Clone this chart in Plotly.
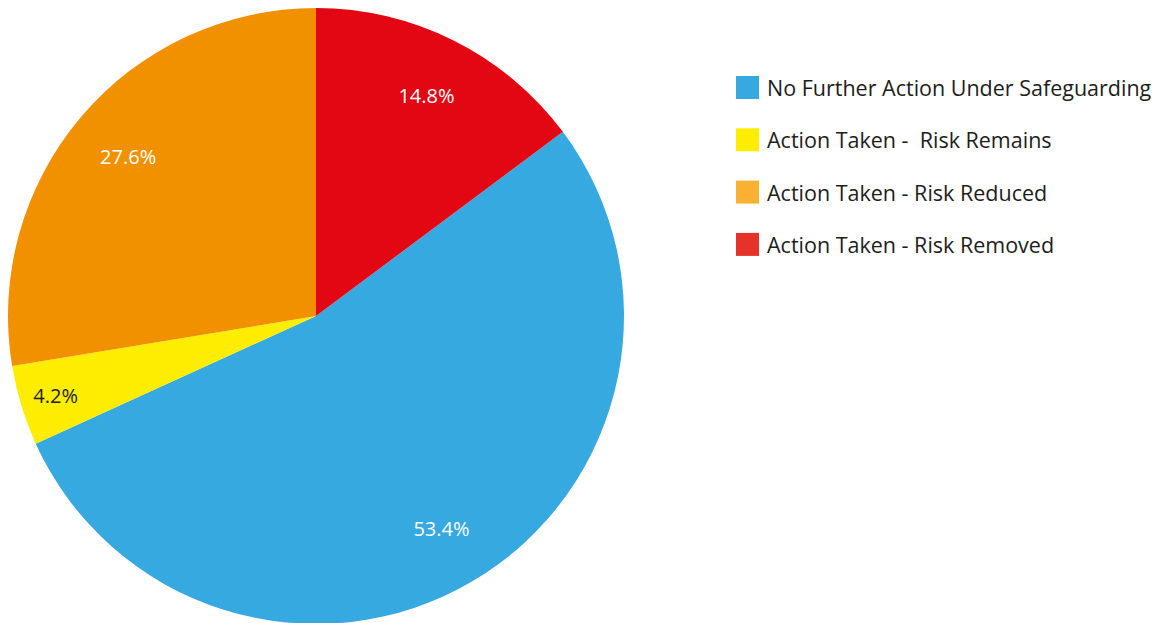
import plotly.graph_objects as go

labels = [
    "No Further Action Under Safeguarding",
    "Action Taken -  Risk Remains",
    "Action Taken - Risk Reduced",
    "Action Taken - Risk Removed",
]
values = [53.4, 4.2, 27.6, 14.8]
colors = ["#36a9e1", "#ffed00", "#f29100", "#e30613"]
legend_colors = ["#36a9e1", "#ffed00", "#f8b133", "#e5332a"]
text_colors = ["white", "#1d1d1b", "white", "white"]

W, H = 1160, 623
start_angle = values[3] / sum(values) * 360  # red slice begins at 12 o'clock

pie_domain = dict(x=[0, 616 / W], y=[7 / H, 1])

fig = go.Figure()
# coloured pie
fig.add_trace(
    go.Pie(
        labels=labels,
        values=values,
        sort=False,
        direction="clockwise",
        rotation=start_angle,
        marker=dict(colors=colors, line=dict(width=0)),
        textinfo="none",
        hoverinfo="label+percent",
        domain=pie_domain,
        showlegend=False,
    )
)
# transparent ring carrying the percentage labels (places text near the rim)
fig.add_trace(
    go.Pie(
        labels=labels,
        values=values,
        sort=False,
        direction="clockwise",
        rotation=start_angle,
        hole=0.6,
        marker=dict(colors=["rgba(0,0,0,0)"] * len(values), line=dict(width=0)),
        texttemplate="%{value:.1f}%",
        textposition="inside",
        insidetextorientation="horizontal",
        insidetextfont=dict(color=text_colors, size=20, family="Open Sans"),
        hoverinfo="skip",
        domain=pie_domain,
        showlegend=False,
    )
)

# legend drawn as swatches + text
shapes = []
annotations = []
leg_x0, leg_y0, leg_step, sw = 728, 68, 52.3, 23
for i, (lab, col) in enumerate(zip(labels, legend_colors)):
    top = leg_y0 + i * leg_step
    shapes.append(
        dict(
            type="rect",
            xref="paper",
            yref="paper",
            x0=leg_x0 / W,
            x1=(leg_x0 + sw) / W,
            y0=1 - (top + sw) / H,
            y1=1 - top / H,
            fillcolor=col,
            line=dict(width=0),
        )
    )
    annotations.append(
        dict(
            xref="paper",
            yref="paper",
            x=(leg_x0 + sw + 6) / W,
            y=1 - (top + sw / 2) / H,
            xanchor="left",
            yanchor="middle",
            text=lab.replace("  ", "&nbsp; "),
            showarrow=False,
            font=dict(size=21.5, family="Open Sans", color="#1d1d1b"),
        )
    )

fig.update_layout(
    width=W,
    height=H,
    margin=dict(l=0, r=0, t=0, b=0),
    paper_bgcolor="white",
    plot_bgcolor="white",
    showlegend=False,
    shapes=shapes,
    annotations=annotations,
)

fig.write_html("out.html")
